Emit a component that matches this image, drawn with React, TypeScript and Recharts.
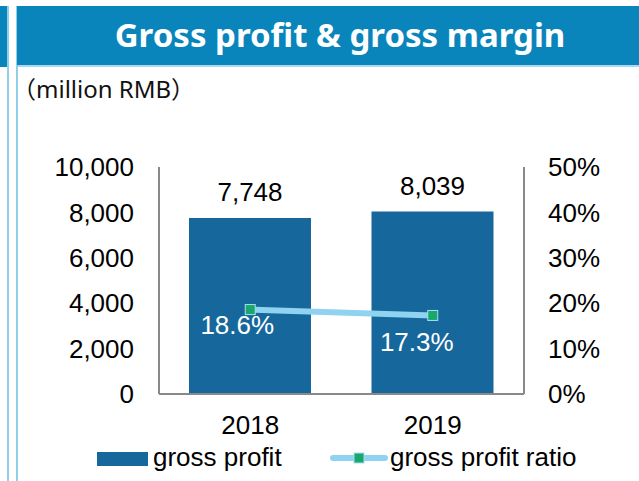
import React from 'react';
import { ComposedChart, Bar, Line, XAxis, YAxis, LabelList } from 'recharts';

// values
const YEARS = ['2018', '2019'];
const GROSS_PROFIT = [7748, 8039];
const GROSS_MARGIN = [0.186, 0.173];
const LEFT_TICKS = [0, 2000, 4000, 6000, 8000, 10000];
const RIGHT_TICKS = [0, 0.1, 0.2, 0.3, 0.4, 0.5];
const SERIES_NAMES = ['gross profit', 'gross profit ratio'];

const COLORS = {
  header: '#0A85BB',
  border: '#6DBEE3',
  bar: '#16689C',
  line: '#8FD3F0',
  marker: '#19A86C',
  axis: '#898989',
};

const FONT = '"Liberation Sans", Arial, sans-serif';

// nudges for the white ratio labels, one per point
const RATIO_LABEL_NUDGE = [
  { dx: -13, dy: 24 },
  { dx: -16, dy: 36 },
];

const data = YEARS.map((year, i) => ({
  year,
  profit: GROSS_PROFIT[i],
  ratio: GROSS_MARGIN[i],
}));

const SquareDot = (props: any) => {
  const { cx, cy, index } = props;
  return (
    <rect
      key={`dot-${index}`}
      x={cx - 5}
      y={cy - 5}
      width={10}
      height={10}
      fill={COLORS.marker}
      stroke="#A6DDF0"
      strokeWidth={1}
    />
  );
};

const RatioLabel = (props: any) => {
  const { x, y, value, index } = props;
  const nudge = RATIO_LABEL_NUDGE[index] || { dx: 0, dy: 24 };
  return (
    <text
      x={x + nudge.dx}
      y={y + nudge.dy}
      textAnchor="middle"
      fill="#ffffff"
      fontSize={26}
      fontFamily={FONT}
    >
      {(value * 100).toFixed(1)}%
    </text>
  );
};

const Frame = () => (
  <svg width={639} height={481} style={{ position: 'absolute', left: 0, top: 0 }}>
    <rect x={0} y={6} width={7} height={61} fill={COLORS.header} />
    <line x1={8} y1={6} x2={8} y2={481} stroke={COLORS.border} strokeWidth={1.5} />
    <line x1={17} y1={6} x2={17} y2={481} stroke={COLORS.border} strokeWidth={1.5} />
    <rect x={17} y={6} width={622} height={59} fill={COLORS.header} />
    <line x1={17} y1={66} x2={639} y2={66} stroke="#8CCDEB" strokeWidth={1.5} />
    <text
      x={340}
      y={47}
      textAnchor="middle"
      fill="#ffffff"
      fontSize={33}
      fontWeight="bold"
      fontFamily='"Noto Sans", sans-serif'
    >
      Gross profit &amp; gross margin
    </text>
    <text x={12} y={98} fill="#111111" fontSize={24} fontFamily='"Noto Sans", "Noto Sans CJK SC", sans-serif'>
      （million RMB）
    </text>
  </svg>
);

const ChartLegend = () => (
  <svg width={639} height={40} style={{ position: 'absolute', left: 0, top: 441 }}>
    <rect x={97} y={11} width={51} height={14} fill={COLORS.bar} />
    <text x={153} y={25} fontSize={26} fontFamily={FONT} fill="#000">
      {SERIES_NAMES[0]}
    </text>
    <line x1={333} y1={17} x2={385} y2={17} stroke={COLORS.line} strokeWidth={6} strokeLinecap="round" />
    <rect x={354} y={12} width={10} height={10} fill={COLORS.marker} stroke="#A6DDF0" strokeWidth={1} />
    <text x={390} y={25} fontSize={26} fontFamily={FONT} fill="#000">
      {SERIES_NAMES[1]}
    </text>
  </svg>
);

export default function App() {
  return (
    <div style={{ position: 'absolute', left: 0, top: 0, width: 639, height: 481, background: '#fff', overflow: 'hidden' }}>
      <Frame />
      <div style={{ position: 'absolute', left: 0, top: 0 }}>
        <ComposedChart
          width={639}
          height={481}
          data={data}
          margin={{ top: 167, right: 15, bottom: 57, left: 59 }}
          style={{ fontFamily: FONT }}
        >
          <XAxis
            dataKey="year"
            height={30}
            axisLine={{ stroke: COLORS.axis, strokeWidth: 2 }}
            tickLine={false}
            tickSize={0}
            tickMargin={22}
            tick={{ fill: '#000', fontSize: 26 }}
          />
          <YAxis
            yAxisId="left"
            width={100}
            domain={[0, 10000]}
            ticks={LEFT_TICKS}
            interval={0}
            axisLine={{ stroke: COLORS.axis, strokeWidth: 2 }}
            tickLine={false}
            tickSize={0}
            tickMargin={25}
            tick={{ fill: '#000', fontSize: 26 }}
            tickFormatter={(v: number) => v.toLocaleString('en-US')}
          />
          <YAxis
            yAxisId="right"
            orientation="right"
            width={100}
            domain={[0, 0.5]}
            ticks={RIGHT_TICKS}
            interval={0}
            axisLine={{ stroke: COLORS.axis, strokeWidth: 2 }}
            tickLine={false}
            tickSize={0}
            tickMargin={24}
            tick={{ fill: '#000', fontSize: 26, textAnchor: 'start' }}
            tickFormatter={(v: number) => `${Math.round(v * 100)}%`}
          />
          <Bar
            yAxisId="left"
            dataKey="profit"
            name={SERIES_NAMES[0]}
            fill={COLORS.bar}
            barSize={122}
            isAnimationActive={false}
          >
            <LabelList
              dataKey="profit"
              position="top"
              offset={17}
              fill="#000"
              fontSize={26}
              formatter={(v: any) => Number(v).toLocaleString('en-US')}
            />
          </Bar>
          <Line
            yAxisId="right"
            type="linear"
            dataKey="ratio"
            name={SERIES_NAMES[1]}
            stroke={COLORS.line}
            strokeWidth={6}
            dot={SquareDot}
            activeDot={false}
            isAnimationActive={false}
          >
            <LabelList dataKey="ratio" content={RatioLabel} />
          </Line>
        </ComposedChart>
      </div>
      <ChartLegend />
    </div>
  );
}
